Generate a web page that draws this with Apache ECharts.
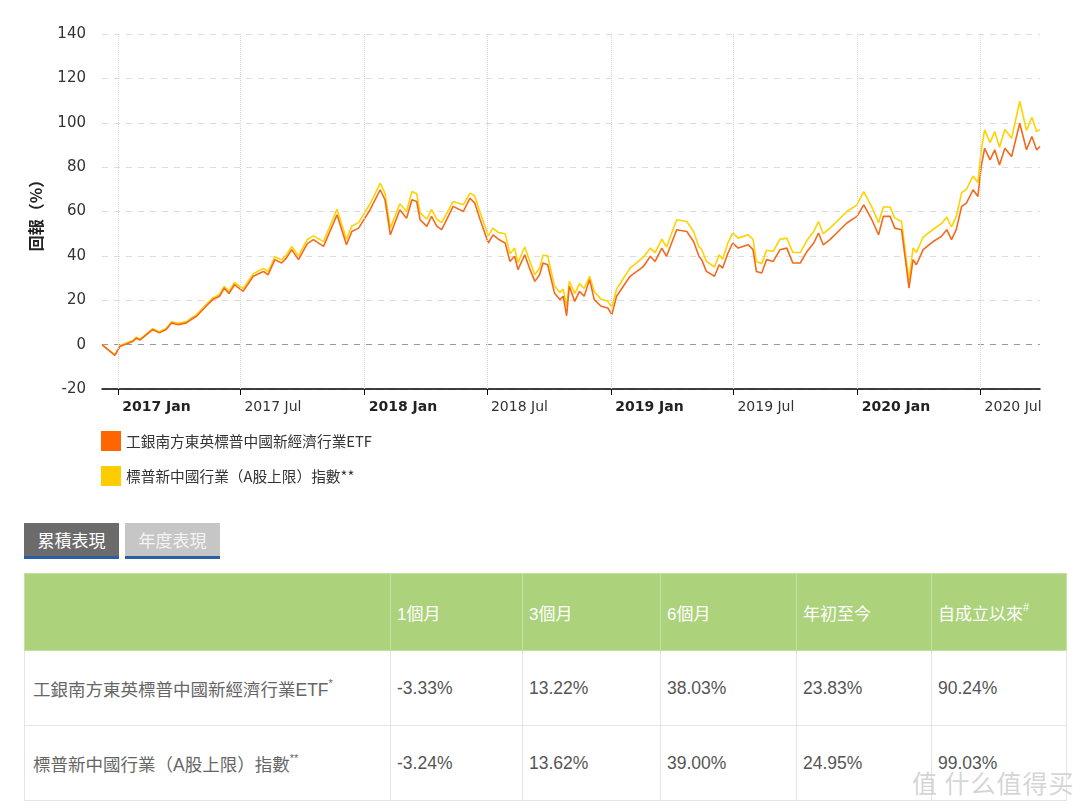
<!DOCTYPE html>
<html>
<head>
<meta charset="utf-8">
<script src="https://cdn.jsdelivr.net/npm/echarts@6/dist/echarts.min.js"></script>
<style>
  body { margin: 0; background: #fff; font-family: "Liberation Sans", "Noto Sans CJK TC", sans-serif; }
  #main { position: absolute; left: 0; top: 0; width: 1080px; height: 510px; }
  .tabs { position: absolute; left: 24px; top: 523px; }
  .tab { float: left; width: 95px; height: 33px; line-height: 33px; text-align: center; font-size: 17px;
         font-family: "Noto Sans CJK TC", sans-serif; border-bottom: 3px solid #2a5fa8; margin-right: 6px; }
  .tab.on { background: #6b6b6b; color: #fff; }
  .tab.off { background: #c6c6c6; color: #f4f4f4; }
  table { position: absolute; left: 24px; top: 573px; border-collapse: collapse; width: 1042px; table-layout: fixed; }
  th, td { text-align: left; padding: 0 0 0 6px; font-weight: normal; }
  th { background: #acd27b; color: #fff; height: 76px; font-size: 17px; border: 1px solid #c4e0a2; }
  td { height: 74px; color: #555; font-size: 17.5px; border: 1px solid #e4e4e4; }
  td.name { color: #666; padding-left: 8px; }
  sup { font-size: 11px; vertical-align: 9px; line-height: 0; }
  .wm { position: absolute; left: 912px; top: 764px; font-size: 25px; color: rgba(200,200,200,0.75);
        font-family: "Noto Sans CJK SC", sans-serif; letter-spacing: 1px; }
</style>
</head>
<body>
<div id="main"></div>
<div class="tabs" id="tabs"></div>
<table id="perf"></table>
<div class="wm">值 什么值得买</div>
<script>
// 数据：日期 / 基金 / 指数（回報 %）
var dates = ['2016-12-08','2016-12-27','2017-01-04','2017-01-14','2017-01-23','2017-01-28','2017-02-02','2017-02-21',
  '2017-03-03','2017-03-13','2017-03-21','2017-03-31','2017-04-12','2017-04-19','2017-04-27','2017-05-11','2017-05-21',
  '2017-05-31','2017-06-07','2017-06-14','2017-06-22','2017-07-05','2017-07-20','2017-08-04','2017-08-11','2017-08-21',
  '2017-08-31','2017-09-07','2017-09-15','2017-09-25','2017-10-08','2017-10-17','2017-11-01','2017-11-21','2017-12-05',
  '2017-12-13','2017-12-23','2018-01-09','2018-01-24','2018-01-31','2018-02-08','2018-02-22','2018-03-04','2018-03-12',
  '2018-03-19','2018-03-24','2018-04-03','2018-04-10','2018-04-18','2018-04-25','2018-05-12','2018-05-27','2018-06-06',
  '2018-06-13','2018-06-21','2018-07-03','2018-07-10','2018-07-18','2018-07-28','2018-08-04','2018-08-11','2018-08-16',
  '2018-08-26','2018-09-02','2018-09-10','2018-09-17','2018-09-22','2018-09-29','2018-10-09','2018-10-17','2018-10-22',
  '2018-10-27','2018-10-31','2018-11-08','2018-11-15','2018-11-22','2018-11-30','2018-12-07','2018-12-17','2018-12-27',
  '2019-01-02','2019-01-09','2019-01-19','2019-01-29','2019-02-08','2019-02-18','2019-02-28','2019-03-07','2019-03-17',
  '2019-03-24','2019-04-08','2019-04-23','2019-05-03','2019-05-11','2019-05-15','2019-05-22','2019-06-03','2019-06-10',
  '2019-06-15','2019-06-23','2019-06-30','2019-07-08','2019-07-23','2019-07-30','2019-08-04','2019-08-12','2019-08-19',
  '2019-08-29','2019-09-08','2019-09-18','2019-09-27','2019-10-08','2019-10-18','2019-10-28','2019-11-04','2019-11-11',
  '2019-11-21','2019-12-01','2019-12-16','2019-12-31','2020-01-10','2020-01-22','2020-02-01','2020-02-08','2020-02-18',
  '2020-02-25','2020-03-06','2020-03-13','2020-03-17','2020-03-23','2020-03-28','2020-04-07','2020-04-22','2020-05-04',
  '2020-05-12','2020-05-19','2020-05-26','2020-06-03','2020-06-10','2020-06-20','2020-06-27','2020-07-02','2020-07-07',
  '2020-07-15','2020-07-22','2020-07-29','2020-08-06','2020-08-16','2020-08-28','2020-09-07','2020-09-15','2020-09-22',
  '2020-09-27'];

var etf = [0,-4.8,-0.7,0.4,1.5,3,2,6.8,
  5.3,6.8,9.8,9,9.8,11.3,12.8,17.3,20.3,
  21.8,25.5,23,27,24,30.8,33,31.5,38.3,
  36.8,39,42.8,38.3,45.5,47.3,44.3,58.5,45,
  51,52.5,60.8,69.8,65.3,49.5,60.8,57,65.3,
  64.5,56.3,53.3,57.8,53.3,51.8,62.3,60,66,
  63.8,56.3,45.8,49.5,47.5,45.8,37.5,39.8,33.8,
  40.5,34.5,28.5,31.5,36.8,36,23.3,20.3,21.8,
  13,26.3,19.5,24,21.8,29.3,20.3,17.3,16.5,
  13.5,21.8,26.3,30.8,33,35.3,39.8,37.5,43.5,
  39.8,51.8,51,46.5,39.8,38.3,33,30.8,36,
  34.5,41.3,45.8,43.5,45,42.8,33,32.3,38.3,
  37.5,42.8,43.5,36.8,36.8,42,45.8,50.3,45,
  47.3,50.3,54.8,57.8,63,56.3,49.5,57.8,57.8,
  52.5,51.8,35.3,25.5,38.3,36,42.8,46.5,48.8,
  51.8,47.3,51.8,62.3,63.8,69.8,66.8,80.3,88.5,
  83.3,87.8,81,88.5,84.8,99.8,87.8,93.8,87.8,
  89.3];

var idx = [0,-4.6,-0.4,0.8,1.9,3.4,2.4,7.2,
  5.8,7.3,10.3,9.6,10.4,11.9,13.5,18,21,
  22.6,26.3,23.9,28,25.2,32,34.3,32.8,39.6,
  38.2,40.4,44.2,40,47.4,49,46.4,61,47.5,
  53.5,55,63.5,72.8,68.3,52.5,63.5,60,69,
  68,59.5,56.5,61,56.5,55,64.5,63,68.3,
  67,59.5,49,52.5,50.5,50,41,43.5,37,
  44,38,31.5,34.5,40.3,40,26.5,23.5,25,
  17,28.5,23,27.5,25.3,30.8,23.8,20.5,19.5,
  17,25,29.8,34.5,37,39.5,43.5,41.5,47.5,
  44,56.3,55.5,51,44,43,37.5,35,40.5,
  38.5,46,50.3,48,49.5,47.5,37.5,36.5,42.5,
  42,47.5,48,41.5,41.5,47,51,55.5,50,
  52.5,55.5,60,63,69,62,55,62,62,
  57,55.5,38.5,29,43.5,41.5,48.5,52,54.5,
  57.5,53,57.8,68.5,70,76,73,87.5,96.8,
  91,96,89,97,93,109.7,96.5,102.5,96,
  97];

var seriesNames = ['工銀南方東英標普中國新經濟行業ETF', '標普新中國行業（A股上限）指數**'];
var tickDates = ['2017-01-01','2017-07-01','2018-01-01','2018-07-01','2019-01-01','2019-07-01','2020-01-01','2020-07-01'];
var yTicks = { min: -20, max: 140, interval: 20 };

// 表格数据
var tabNames = ['累積表現', '年度表現'];
var periods = ['1個月', '3個月', '6個月', '年初至今', '自成立以來'];
var rowNames = ['工銀南方東英標普中國新經濟行業ETF', '標普新中國行業（A股上限）指數'];
var rowMarks = ['*', '**'];
var etfPerf = ['-3.33%', '13.22%', '38.03%', '23.83%', '90.24%'];
var idxPerf = ['-3.24%', '13.62%', '39.00%', '24.95%', '99.03%'];

// tabs + 表格
document.getElementById('tabs').innerHTML = tabNames.map(function (t, i) {
  return '<div class="tab ' + (i === 0 ? 'on' : 'off') + '">' + t + '</div>';
}).join('');
var html = '<colgroup><col style="width:366px"><col style="width:132px"><col style="width:138px"><col style="width:136px"><col style="width:135px"><col style="width:135px"></colgroup>';
html += '<tr><th></th>' + periods.map(function (p, i) {
  return '<th>' + p + (i === periods.length - 1 ? '<sup>#</sup>' : '') + '</th>';
}).join('') + '</tr>';
[etfPerf, idxPerf].forEach(function (row, r) {
  html += '<tr><td class="name">' + rowNames[r] + '<sup>' + rowMarks[r] + '</sup></td>' +
    row.map(function (v) { return '<td>' + v + '</td>'; }).join('') + '</tr>';
});
document.getElementById('perf').innerHTML = html;

function ts(d) { return +new Date(d + 'T00:00:00Z'); }
function pairs(vals) { return dates.map(function (d, i) { return [ts(d), vals[i]]; }); }
var monthNames = ['Jan','Feb','Mar','Apr','May','Jun','Jul','Aug','Sep','Oct','Nov','Dec'];
var tickTs = tickDates.map(ts);

var myChart = echarts.init(document.getElementById('main'));
var option = {
  animation: false,
  color: ['#f46a1c', '#ffd200'],
  grid: { left: 102, right: 40, top: 34, height: 355 },
  legend: {
    orient: 'vertical', left: 96, top: 426,
    icon: 'rect', itemWidth: 20, itemHeight: 20, itemGap: 15,
    textStyle: { fontSize: 14.7, color: '#333', fontFamily: 'Noto Sans CJK TC' },
    data: [
      { name: seriesNames[0], itemStyle: { color: '#ff6600' } },
      { name: seriesNames[1], itemStyle: { color: '#ffcc00' } }
    ]
  },
  // 用数值轴承载时间戳，刻度按半年自定义
  xAxis: {
    type: 'value',
    min: ts(dates[0]), max: ts(dates[dates.length - 1]),
    axisLine: { onZero: false, lineStyle: { color: '#000', width: 1.5 } },
    axisTick: { customValues: tickTs, length: 6, lineStyle: { color: '#000' } },
    splitLine: { show: false },
    axisLabel: {
      customValues: tickTs,
      align: 'left', margin: 11, padding: [0, 0, 0, 4],
      fontSize: 14, color: '#333', fontFamily: 'DejaVu Sans',
      formatter: function (v) {
        var d = new Date(v);
        var s = d.getUTCFullYear() + ' ' + monthNames[d.getUTCMonth()];
        return d.getUTCMonth() === 0 ? '{b|' + s + '}' : s;
      },
      rich: { b: { fontWeight: 'bold', fontSize: 14, color: '#222', fontFamily: 'DejaVu Sans' } }
    }
  },
  yAxis: {
    type: 'value',
    min: yTicks.min, max: yTicks.max, interval: yTicks.interval,
    name: '回報（%）', nameLocation: 'middle', nameGap: 58, nameRotate: 90,
    nameTextStyle: { fontSize: 16, fontWeight: 'bold', color: '#222', fontFamily: 'Noto Sans CJK TC' },
    axisLine: { show: false }, axisTick: { show: false },
    axisLabel: { fontSize: 15, color: '#333', margin: 16, fontFamily: 'DejaVu Sans' },
    splitLine: {
      lineStyle: { type: [6, 6], color: ['#ddd', '#999', '#ddd', '#ddd', '#ddd', '#ddd', '#ddd', '#ddd', '#ddd'] }
    }
  },
  series: [
    {
      name: seriesNames[1], type: 'line', data: pairs(idx), showSymbol: false,
      lineStyle: { width: 1.6, color: '#ffd200' }, z: 2,
      markLine: {
        silent: true, symbol: 'none', label: { show: false },
        lineStyle: { type: 'dotted', color: '#d4d4d4', width: 1 },
        data: tickTs.map(function (t) { return { xAxis: t }; })
      }
    },
    {
      name: seriesNames[0], type: 'line', data: pairs(etf), showSymbol: false,
      lineStyle: { width: 1.6, color: '#f46a1c' }, z: 3
    }
  ]
};
myChart.setOption(option);
</script>
</body>
</html>
